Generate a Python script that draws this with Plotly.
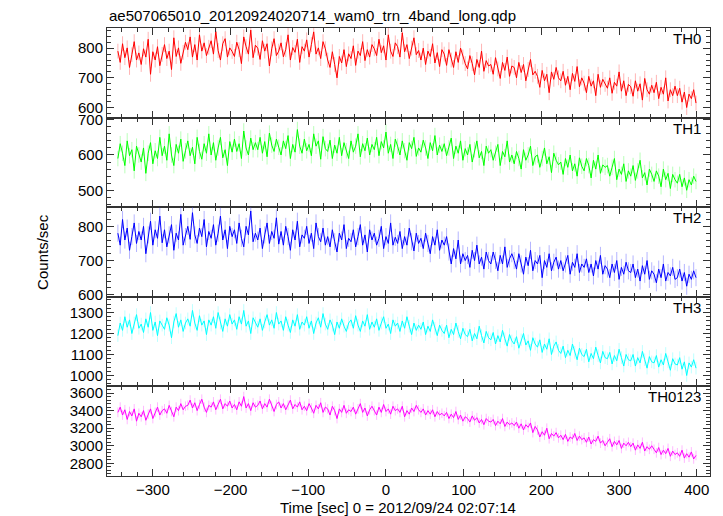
import numpy as np
import plotly.graph_objects as go
from plotly.subplots import make_subplots

t_start, t_stop, t_bin = -345, 400, 3
names = ["TH0", "TH1", "TH2", "TH3", "TH0123"]

th0 = [790, 752, 815, 768, 801, 735, 778, 822, 760, 784,
       745, 798, 770, 830, 712, 788, 760, 805, 741, 779,
       812, 765, 790, 728, 835, 772, 801, 749, 786, 820,
       795, 838, 770, 812, 760, 845, 790, 818, 775, 803,
       825, 780, 856, 792, 760, 815, 832, 770, 801, 789,
       772, 820, 795, 748, 838, 805, 780, 861, 768, 810,
       800, 762, 825, 790, 815, 740, 798, 832, 775, 790,
       818, 771, 795, 845, 760, 802, 786, 830, 752, 805,
       790, 828, 770, 812, 855, 780, 801, 765, 822, 798,
       760, 735, 788, 745, 700, 772, 750, 795, 738, 781,
       765, 808, 742, 790, 775, 822, 758, 795, 770, 812,
       798, 775, 830, 785, 808, 760, 845, 790, 772, 818,
       805, 770, 852, 788, 812, 765, 800, 835, 778, 792,
       760, 800, 745, 790, 772, 815, 750, 785, 738, 795,
       780, 742, 795, 760, 735, 788, 752, 800, 770, 748,
       730, 775, 748, 710, 762, 735, 790, 722, 758, 740,
       745, 712, 768, 730, 698, 752, 725, 770, 705, 740,
       735, 700, 752, 718, 745, 690, 728, 762, 710, 722,
       705, 668, 725, 690, 712, 650, 720, 695, 735, 700,
       690, 722, 675, 705, 660, 715, 688, 738, 670, 700,
       682, 650, 705, 672, 690, 640, 712, 668, 695, 678,
       665, 700, 648, 685, 672, 720, 655, 690, 640, 678,
       670, 638, 690, 655, 680, 625, 698, 660, 645, 675,
       650, 685, 630, 668, 645, 700, 622, 660, 640, 672,
       640, 665, 618, 652, 600, 645, 630, 660, 615]

th1 = [590, 632, 605, 570, 640, 598, 615, 555, 625, 600,
       580, 620, 548, 605, 635, 575, 612, 590, 650, 598,
       625, 585, 660, 600, 570, 630, 605, 645, 582, 612,
       640, 598, 622, 575, 650, 610, 588, 632, 605, 660,
       600, 635, 585, 620, 650, 592, 615, 570, 638, 608,
       645, 610, 632, 590, 668, 620, 600, 648, 615, 635,
       615, 650, 605, 638, 595, 662, 628, 610, 645, 622,
       600, 640, 618, 655, 590, 630, 608, 672, 625, 605,
       645, 612, 630, 598, 660, 625, 640, 588, 652, 618,
       610, 642, 590, 628, 605, 650, 598, 635, 612, 590,
       640, 608, 625, 660, 595, 632, 612, 648, 600, 630,
       615, 650, 598, 638, 620, 665, 605, 630, 590, 645,
       625, 600, 640, 612, 585, 635, 618, 650, 596, 620,
       608, 642, 620, 590, 635, 612, 655, 600, 628, 610,
       632, 598, 620, 648, 590, 625, 605, 640, 585, 618,
       600, 630, 580, 615, 640, 592, 610, 570, 625, 605,
       615, 585, 605, 630, 570, 610, 595, 640, 580, 600,
       575, 610, 590, 560, 615, 585, 600, 625, 570, 595,
       600, 565, 590, 620, 575, 595, 550, 605, 585, 572,
       580, 545, 590, 565, 600, 555, 575, 540, 592, 568,
       555, 590, 570, 535, 585, 560, 600, 548, 572, 565,
       570, 540, 565, 590, 530, 560, 545, 575, 525, 555,
       540, 570, 528, 555, 585, 535, 550, 515, 560, 545,
       525, 555, 540, 510, 560, 530, 548, 505, 545, 530,
       520, 545, 510, 535, 500, 530, 515, 540, 525]

th2 = [780, 745, 820, 760, 795, 730, 770, 810, 750, 785,
       760, 800, 720, 775, 815, 745, 790, 765, 830, 752,
       790, 740, 775, 805, 730, 780, 760, 835, 745, 770,
       800, 762, 840, 775, 750, 795, 770, 820, 740, 785,
       765, 805, 745, 780, 830, 760, 790, 735, 800, 770,
       790, 750, 810, 765, 740, 800, 775, 845, 755, 780,
       760, 795, 735, 775, 810, 750, 785, 765, 825, 748,
       785, 745, 800, 770, 730, 790, 760, 815, 740, 775,
       765, 800, 750, 780, 735, 810, 770, 755, 795, 745,
       770, 740, 790, 755, 725, 780, 760, 805, 735, 765,
       755, 790, 740, 770, 805, 745, 775, 725, 790, 760,
       780, 745, 765, 800, 735, 770, 750, 810, 745, 768,
       750, 785, 735, 770, 745, 795, 755, 728, 780, 750,
       765, 735, 780, 750, 720, 770, 745, 790, 730, 760,
       745, 770, 725, 690, 735, 705, 760, 690, 720, 700,
       715, 680, 730, 700, 745, 690, 710, 675, 725, 700,
       690, 725, 700, 670, 715, 690, 740, 680, 705, 720,
       700, 675, 720, 690, 660, 710, 685, 730, 670, 700,
       690, 715, 650, 700, 680, 720, 670, 695, 710, 675,
       700, 670, 690, 715, 660, 695, 680, 720, 665, 690,
       680, 705, 665, 690, 655, 700, 675, 715, 660, 685,
       675, 650, 690, 665, 700, 645, 680, 660, 695, 670,
       665, 690, 650, 675, 640, 685, 660, 700, 645, 670,
       660, 635, 675, 650, 690, 640, 665, 655, 680, 645,
       650, 675, 640, 665, 625, 660, 645, 670, 650]

th3 = [1190, 1250, 1215, 1280, 1230, 1265, 1200, 1250, 1290, 1225,
       1245, 1205, 1270, 1230, 1300, 1215, 1255, 1190, 1260, 1240,
       1220, 1275, 1240, 1180, 1255, 1295, 1230, 1265, 1210, 1250,
       1270, 1235, 1310, 1250, 1215, 1285, 1240, 1260, 1195, 1265,
       1240, 1280, 1225, 1300, 1250, 1210, 1270, 1235, 1290, 1245,
       1265, 1220, 1280, 1245, 1310, 1235, 1260, 1200, 1275, 1250,
       1230, 1270, 1215, 1255, 1290, 1240, 1265, 1225, 1300, 1245,
       1260, 1215, 1280, 1240, 1205, 1265, 1235, 1290, 1220, 1255,
       1240, 1280, 1225, 1260, 1200, 1250, 1275, 1230, 1295, 1245,
       1220, 1265, 1240, 1195, 1255, 1225, 1270, 1235, 1210, 1250,
       1265, 1225, 1285, 1240, 1210, 1260, 1235, 1290, 1220, 1255,
       1230, 1270, 1215, 1250, 1280, 1225, 1245, 1200, 1265, 1235,
       1250, 1210, 1260, 1225, 1280, 1235, 1195, 1250, 1215, 1240,
       1220, 1255, 1195, 1235, 1210, 1265, 1225, 1190, 1240, 1215,
       1200, 1240, 1180, 1220, 1195, 1250, 1210, 1175, 1225, 1195,
       1185, 1220, 1165, 1200, 1175, 1235, 1190, 1155, 1210, 1180,
       1170, 1205, 1150, 1190, 1160, 1215, 1175, 1140, 1195, 1165,
       1150, 1185, 1130, 1170, 1200, 1145, 1165, 1120, 1180, 1150,
       1135, 1170, 1110, 1150, 1125, 1175, 1100, 1140, 1160, 1120,
       1105, 1140, 1085, 1120, 1095, 1150, 1110, 1075, 1130, 1100,
       1090, 1125, 1065, 1105, 1080, 1135, 1095, 1060, 1115, 1085,
       1080, 1110, 1055, 1095, 1070, 1125, 1085, 1045, 1100, 1075,
       1070, 1100, 1045, 1085, 1060, 1115, 1075, 1035, 1090, 1065,
       1060, 1095, 1040, 1075, 1050, 1105, 1065, 1025, 1080, 1055,
       1050, 1085, 1030, 1065, 1000, 1060, 1040, 1075, 1035]

th0123 = [3380, 3440, 3350, 3410, 3300, 3390, 3340, 3420, 3280, 3370,
          3330, 3400, 3290, 3360, 3420, 3310, 3380, 3440, 3350, 3400,
          3420, 3370, 3460, 3390, 3330, 3440, 3400, 3480, 3410, 3450,
          3460, 3520, 3430, 3490, 3400, 3470, 3530, 3440, 3380, 3460,
          3440, 3500, 3410, 3470, 3530, 3420, 3480, 3450, 3510, 3430,
          3470, 3410, 3500, 3450, 3560, 3430, 3480, 3400, 3490, 3440,
          3460, 3510, 3420, 3480, 3440, 3530, 3450, 3390, 3470, 3500,
          3430, 3480, 3410, 3460, 3520, 3420, 3470, 3440, 3500, 3410,
          3450, 3400, 3480, 3430, 3370, 3460, 3420, 3490, 3380, 3440,
          3420, 3350, 3450, 3400, 3310, 3420, 3380, 3460, 3370, 3410,
          3390, 3440, 3360, 3420, 3480, 3380, 3430, 3340, 3410, 3450,
          3400, 3350, 3440, 3380, 3470, 3390, 3420, 3360, 3450, 3400,
          3420, 3380, 3450, 3330, 3400, 3360, 3430, 3390, 3460, 3410,
          3380, 3420, 3350, 3400, 3360, 3410, 3330, 3390, 3350, 3370,
          3340, 3380, 3310, 3360, 3320, 3390, 3300, 3350, 3280, 3330,
          3310, 3270, 3340, 3290, 3320, 3260, 3300, 3240, 3310, 3280,
          3270, 3300, 3230, 3280, 3250, 3310, 3220, 3270, 3240, 3260,
          3230, 3270, 3200, 3250, 3180, 3240, 3210, 3260, 3150, 3220,
          3180, 3100, 3160, 3120, 3200, 3080, 3140, 3110, 3150, 3090,
          3120, 3070, 3130, 3050, 3100, 3080, 3140, 3060, 3110, 3070,
          3090, 3040, 3100, 3020, 3070, 3050, 3110, 3030, 3060, 3000,
          3040, 3080, 2990, 3050, 3010, 3060, 2970, 3030, 3000, 3040,
          2990, 3030, 2950, 3010, 2970, 3040, 2940, 2990, 2960, 3000,
          2960, 2920, 2980, 2900, 2950, 2910, 2970, 2880, 2940, 2900,
          2920, 2880, 2950, 2860, 2910, 2870, 2930, 2850, 2890]

errors = [25, 22, 25, 30, 55]
y_ranges = [[566, 868], [452, 706], [594, 856], [948, 1375], [2656, 3676]]
y_dticks = [100, 100, 100, 100, 200]
y_minor = [20, 20, 20, 20, 40]
x_range = [-359, 417]

colors = ["#ff0000", "#00ff00", "#0000ff", "#00ffff", "#ff00ff"]
err_colors = ["rgba(255,90,90,0.45)", "rgba(100,255,100,0.45)", "rgba(90,90,255,0.45)",
              "rgba(110,255,255,0.45)", "rgba(255,100,255,0.45)"]

series = [th0, th1, th2, th3, th0123]
time = np.arange(t_start, t_stop, t_bin)

fig = make_subplots(rows=5, cols=1, shared_xaxes=True, vertical_spacing=0)
font = "Liberation Sans, Arial, Helvetica, sans-serif"
axis_color = "#333333"

for i, (name, vals) in enumerate(zip(names, series)):
    n = min(len(vals), len(time))
    fig.add_trace(go.Scatter(
        x=time[:n], y=vals[:n], mode="lines",
        line=dict(color=colors[i], width=1),
        error_y=dict(type="constant", value=errors[i], color=err_colors[i],
                     thickness=1, width=0),
        showlegend=False, name=name), row=i + 1, col=1)
    fig.update_yaxes(range=y_ranges[i], dtick=y_dticks[i], row=i + 1, col=1,
                     minor=dict(dtick=y_minor[i], ticks="inside", ticklen=4,
                                tickcolor=axis_color))
    fig.add_annotation(text=name, xref="x domain" if i == 0 else f"x{i+1} domain",
                       yref="y domain" if i == 0 else f"y{i+1} domain",
                       x=0.988, y=1.0, xanchor="right", yanchor="top",
                       showarrow=False, font=dict(size=15, color="black", family=font))

fig.update_xaxes(range=x_range, dtick=100, ticks="inside", ticklen=7, tickwidth=1,
                 tickcolor=axis_color, showline=True, linecolor=axis_color, linewidth=1,
                 mirror="allticks", showgrid=False, zeroline=False,
                 minor=dict(dtick=20, ticks="inside", ticklen=4, tickcolor=axis_color),
                 tickfont=dict(size=15, color="black", family=font))
fig.update_yaxes(ticks="inside", ticklen=7, tickwidth=1, tickcolor=axis_color,
                 showline=True, linecolor=axis_color, linewidth=1, mirror="allticks",
                 showgrid=False, zeroline=False,
                 tickfont=dict(size=15, color="black", family=font))

fig.add_annotation(text="ae507065010_20120924020714_wam0_trn_4band_long.qdp",
                   xref="paper", yref="paper", x=0, y=1, xanchor="left",
                   yanchor="bottom", yshift=2, showarrow=False,
                   font=dict(size=15, color="black", family=font))
fig.add_annotation(text="Counts/sec", xref="paper", yref="paper", x=-0.108, y=0.5,
                   textangle=-90, showarrow=False, xanchor="center", yanchor="middle",
                   font=dict(size=15, color="black", family=font))
fig.add_annotation(text="Time [sec] 0 = 2012/09/24 02:07:14", xref="paper",
                   yref="paper", x=0.483, y=0, yshift=-31, xanchor="center",
                   yanchor="middle", showarrow=False,
                   font=dict(size=15, color="black", family=font))

# page body adds an 8px offset, so the figure is 8px smaller than the window
fig.update_layout(width=715, height=508, margin=dict(l=99, r=13, t=20, b=40),
                  plot_bgcolor="white", paper_bgcolor="white",
                  font=dict(family=font, size=15, color="black"))

fig.write_html("out.html")
